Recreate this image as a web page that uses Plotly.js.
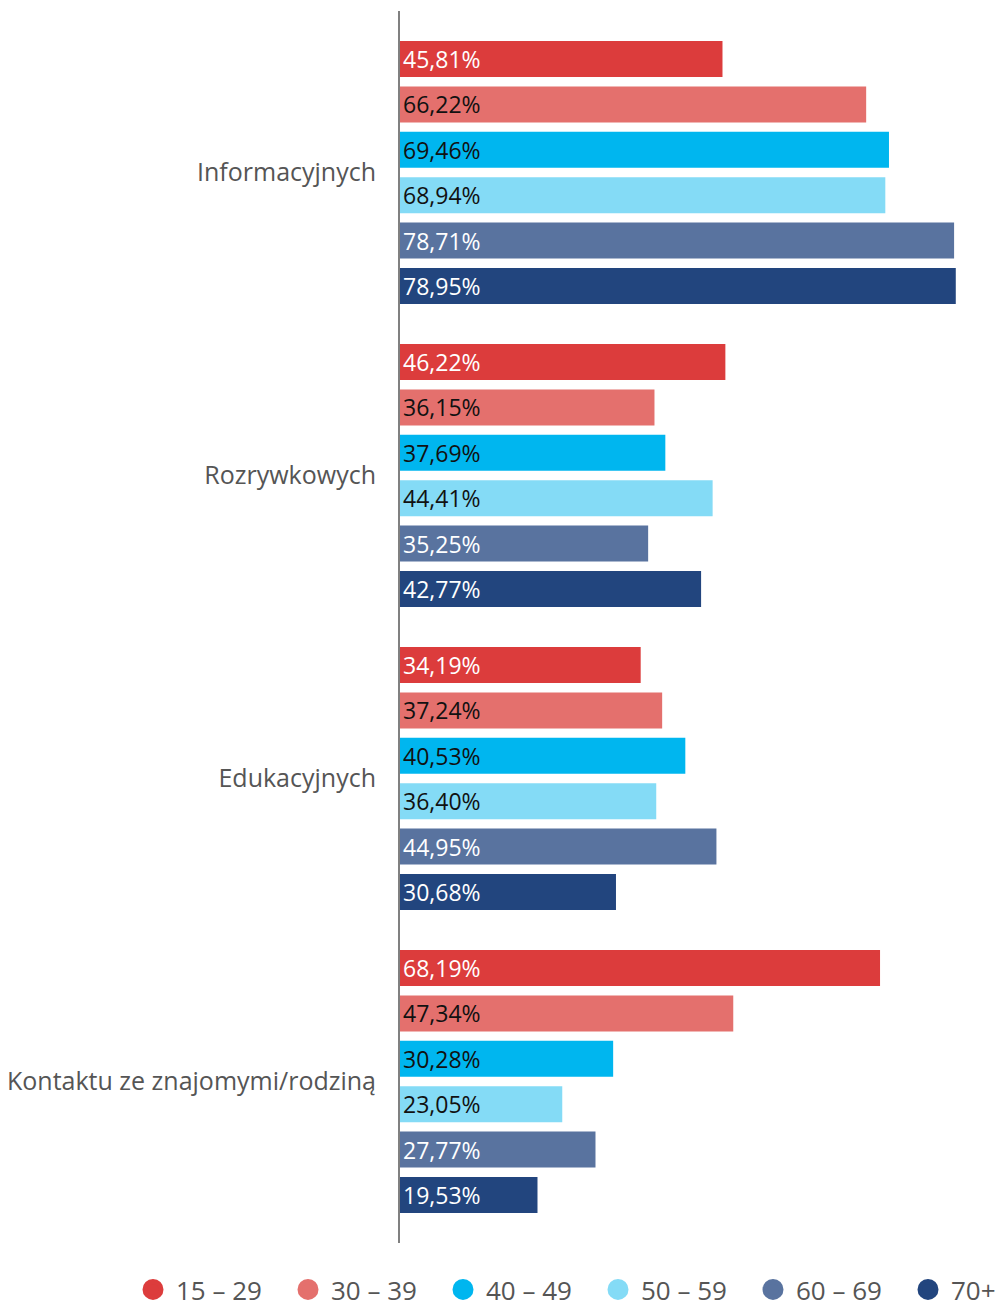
<!DOCTYPE html>
<html>
<head>
<meta charset="utf-8">
<script src="https://cdn.plot.ly/plotly-3.0.1.min.js"></script>
<style>html,body{margin:0;padding:0;background:#fff;}#chart{width:995px;height:1313px;}</style>
</head>
<body>
<div id="chart"></div>
<script>
const categories = ["Informacyjnych", "Rozrywkowych", "Edukacyjnych", "Kontaktu ze znajomymi/rodziną"];
const seriesNames = ["15 – 29", "30 – 39", "40 – 49", "50 – 59", "60 – 69", "70+"];
const v15_29 = [45.81, 46.22, 34.19, 68.19];
const v30_39 = [66.22, 36.15, 37.24, 47.34];
const v40_49 = [69.46, 37.69, 40.53, 30.28];
const v50_59 = [68.94, 44.41, 36.40, 23.05];
const v60_69 = [78.71, 35.25, 44.95, 27.77];
const v70p = [78.95, 42.77, 30.68, 19.53];
const seriesValues = [v15_29, v30_39, v40_49, v50_59, v60_69, v70p];
const colors = ["#DC3C3C", "#E4706D", "#00B6EF", "#84DBF6", "#59739F", "#22457E"];
const textColors = ["#ffffff", "#111111", "#111111", "#111111", "#ffffff", "#ffffff"];

const FONT = "'Open Sans', Lato, sans-serif";
const traces = [];
seriesValues.forEach((vals, i) => {
  traces.push({
    type: "bar",
    orientation: "h",
    name: seriesNames[i],
    y: categories,
    x: vals,
    marker: {color: colors[i]},
    texttemplate: "%{x:.2f}%",
    textposition: "inside",
    insidetextanchor: "start",
    constraintext: "none",
    textangle: 0,
    textfont: {family: FONT, size: 23, color: textColors[i]},
    hoverinfo: "skip",
    showlegend: false
  });
});
// legend entries with circular markers
seriesNames.forEach((n, i) => {
  traces.push({
    type: "scatter",
    mode: "markers",
    name: n,
    x: [null],
    y: [null],
    marker: {color: colors[i], size: 16, symbol: "circle", line: {color: colors[i], width: 5}},
    showlegend: true,
    hoverinfo: "skip"
  });
});

const layout = {
  width: 995,
  height: 1313,
  margin: {l: 0, r: 0, t: 11, b: 70},
  paper_bgcolor: "#fff",
  plot_bgcolor: "#fff",
  separators: ", ",
  barmode: "group",
  bargap: 0.101,
  bargroupgap: 0.207,
  font: {family: FONT, color: "#555555", size: 25},
  xaxis: {
    domain: [400 / 995, 980 / 995],
    range: [0, 82.39],
    showgrid: false,
    zeroline: false,
    showticklabels: false,
    showline: false,
    fixedrange: true
  },
  yaxis: {
    type: "category",
    categoryorder: "array",
    categoryarray: categories,
    range: [3.533, -0.533],
    showgrid: false,
    zeroline: false,
    showline: true,
    linecolor: "#808080",
    linewidth: 2,
    ticks: "",
    ticklabelstandoff: 17,
    tickfont: {family: FONT, size: 25, color: "#555555"}
  },
  showlegend: true,
  legend: {
    orientation: "h",
    xref: "container",
    yref: "container",
    x: 130 / 995,
    xanchor: "left",
    y: 0,
    yanchor: "bottom",
    borderwidth: 0,
    font: {family: FONT, size: 26, color: "#555555"},
    itemwidth: 36,
    entrywidth: 104,
    entrywidthmode: "pixels",
    traceorder: "normal"
  }
};

Plotly.newPlot("chart", traces, layout, {displayModeBar: false, staticPlot: true});
</script>
</body>
</html>
